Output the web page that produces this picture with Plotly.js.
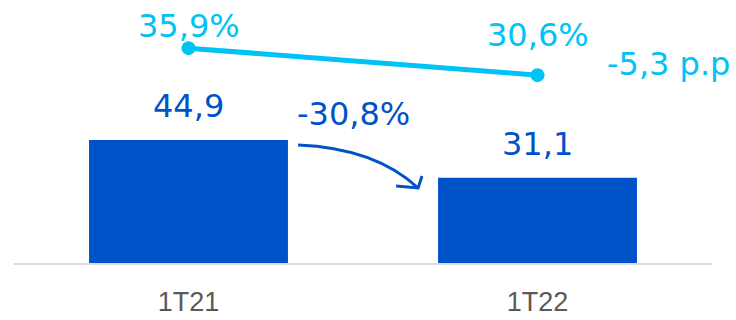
<!DOCTYPE html>
<html>
<head>
<meta charset="utf-8">
<script src="https://cdn.plot.ly/plotly-3.0.1.min.js"></script>
<style>html,body{margin:0;padding:0;background:#fff;}#chart{width:736px;height:320px;}</style>
</head>
<body>
<div id="chart"></div>
<script>
const categories = ['1T21', '1T22'];
const barValues = [44.9, 31.1];
const barLabels = ['44,9', '31,1'];
const lineValues = [35.9, 30.6];
const lineLabels = ['35,9%', '30,6%'];
const changeBarLabel = '-30,8%';
const changeLineLabel = '-5,3 p.p';

const BLUE = '#0052C9';
const CYAN = '#00C3F5';
const FONT = 'DejaVu Sans';

const traces = [
  {
    type: 'bar', x: categories, y: barValues, width: 0.57,
    marker: {color: BLUE}, hoverinfo: 'none', yaxis: 'y'
  },
  {
    type: 'scatter', mode: 'lines+markers', x: categories, y: lineValues,
    line: {color: CYAN, width: 5}, marker: {color: CYAN, size: 14},
    yaxis: 'y2', hoverinfo: 'none'
  }
];

const annotations = [];
categories.forEach((c, i) => {
  annotations.push({x: c, y: barValues[i], xref: 'x', yref: 'y', text: barLabels[i],
    showarrow: false, yanchor: 'middle', yshift: 34,
    font: {family: FONT, size: 32, color: BLUE}});
});
annotations.push({x: categories[0], y: lineValues[0], xref: 'x', yref: 'y2', text: lineLabels[0],
  showarrow: false, yanchor: 'middle', yshift: 22, font: {family: FONT, size: 32, color: CYAN}});
annotations.push({x: categories[1], y: lineValues[1], xref: 'x', yref: 'y2', text: lineLabels[1],
  showarrow: false, yanchor: 'middle', yshift: 40, font: {family: FONT, size: 32, color: CYAN}});
annotations.push({x: 0.472, y: 54.4, xref: 'x', yref: 'y', text: changeBarLabel,
  showarrow: false, yanchor: 'middle', font: {family: FONT, size: 32, color: BLUE}});
annotations.push({x: 1.374, y: 72.6, xref: 'x', yref: 'y', text: changeLineLabel,
  showarrow: false, yanchor: 'middle', font: {family: FONT, size: 32, color: CYAN}});

const shapes = [
  {type: 'path', xref: 'x', yref: 'y', path: 'M 0.314 43.07 Q 0.534 41.97 0.658 27.37',
   line: {color: BLUE, width: 3}},
  {type: 'path', xref: 'x', yref: 'y', path: 'M 0.595 28.1 L 0.658 27.37 L 0.669 31.75',
   line: {color: BLUE, width: 3}}
];

const layout = {
  width: 736, height: 320,
  margin: {l: 14, r: 24, t: 0, b: 57},
  paper_bgcolor: '#fff', plot_bgcolor: '#fff',
  showlegend: false,
  xaxis: {type: 'category', range: [-0.5, 1.5], showline: true, linecolor: '#D9D9D9', linewidth: 2,
    ticks: '', showgrid: false, zeroline: false, ticklabelstandoff: 14,
    tickfont: {family: 'Liberation Sans', size: 27, color: '#595959'}},
  yaxis: {range: [0, 96], visible: false, showgrid: false, zeroline: false},
  yaxis2: {range: [-6.3, 45.36], overlaying: 'y', visible: false, showgrid: false, zeroline: false},
  annotations: annotations,
  shapes: shapes
};

Plotly.newPlot('chart', traces, layout, {displayModeBar: false, staticPlot: true});
</script>
</body>
</html>
